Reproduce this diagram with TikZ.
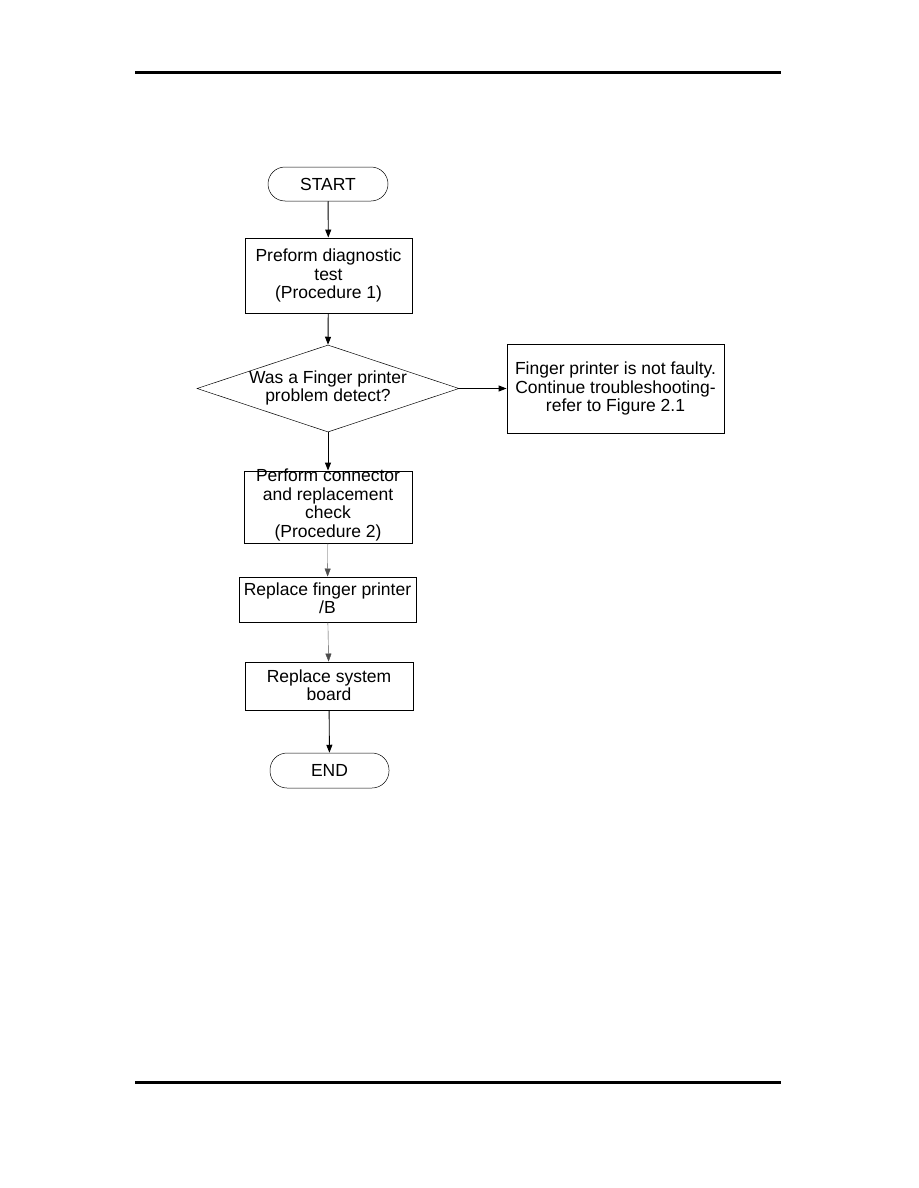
\documentclass[tikz,border=0pt]{standalone}
\usepackage{fontspec}
\setmainfont{Liberation Sans}
\usetikzlibrary{shapes.geometric,arrows.meta}
\begin{document}
\begin{tikzpicture}[x=1pt,y=-1pt,
  every node/.style={font=\fontsize{17.5}{18.5}\selectfont, align=center, inner sep=0pt},
  term/.style={draw, rounded corners=17pt, line width=0.5pt},
  stepbox/.style={draw, line width=0.9pt},
  flow/.style={-{Triangle[length=8pt,width=6pt]}, line width=0.9pt},
  thinflow/.style={-{Triangle[length=8pt,width=6pt]}, line width=0.4pt, draw=black!70},
  rule/.style={line width=3pt}]
\useasboundingbox (0,0) rectangle (918,1188);
\coordinate (tl) at (135,73); \coordinate (tr) at (781,73);
\coordinate (bl) at (135,1082); \coordinate (br) at (781,1082);
\draw[rule] (tl) -- (tr);
\draw[rule] (bl) -- (br);

\node[term, minimum width=120pt, minimum height=34pt] (start) at (328,184) {};
\node at (328,184) {START};
\node[stepbox, minimum width=167pt, minimum height=75pt] (b1) at (328.5,275.5) {};
\node at (328.5,275.5) {Preform diagnostic\\test\\(Procedure 1)};
\node[draw, diamond, aspect=3, line width=0.5pt, minimum width=262pt, minimum height=87pt, inner sep=0pt] (d) at (328,388.5) {};
\node at (328,388) {Was a Finger printer\\problem detect?};
\node[stepbox, minimum width=217pt, minimum height=89pt] (r) at (615.5,388.5) {};
\node at (615.5,388.5) {Finger printer is not faulty.\\Continue troubleshooting-\\refer to Figure 2.1};
\node[stepbox, minimum width=168pt, minimum height=72pt] (b2) at (328,507) {};
\node at (328,505) {Perform connector\\and replacement\\check\\(Procedure 2)};
\node[stepbox, minimum width=177pt, minimum height=45pt] (b3) at (327.5,599.5) {};
\node at (327.5,598) {Replace finger printer\\/B};
\node[stepbox, minimum width=168pt, minimum height=48pt] (b4) at (329,686) {};
\node at (329,685) {Replace system\\board};
\node[term, minimum width=119pt, minimum height=35pt] (end) at (329.5,770.5) {};
\node at (329.5,770.5) {END};

\draw[flow] (start) -- (b1);
\draw[flow] (b1) -- (d.north);
\draw[flow] (d.south) -- (b2);
\draw[flow] (d.east) -- (r.west);
\draw[thinflow] (b2) -- (b3);
\draw[thinflow] (b3) -- (b4);
\draw[flow] (b4) -- (end);
\end{tikzpicture}
\end{document}
